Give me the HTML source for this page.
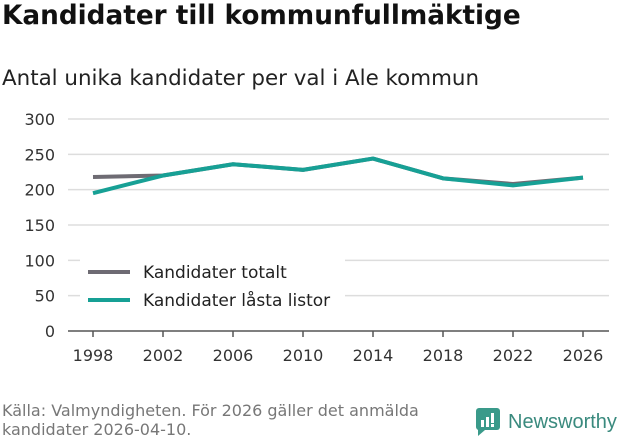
<!DOCTYPE html>
<html><head><meta charset="utf-8"><style>
body{margin:0;width:631px;height:439px;background:#fff;font-family:"DejaVu Sans","Liberation Sans",sans-serif;overflow:hidden;position:relative}
.t{position:absolute;color:#111;white-space:nowrap}
</style></head><body>
<div class="t" style="left:2px;top:1px;font-size:26.3px;font-weight:bold">Kandidater till kommunfullmäktige</div>
<div class="t" style="left:2px;top:66px;font-size:21.4px;color:#222">Antal unika kandidater per val i Ale kommun</div>
<svg id="c" width="631" height="439" style="position:absolute;left:0;top:0"></svg>
<div class="t" style="left:2px;top:401px;font-size:16px;color:#777;line-height:19px">Källa: Valmyndigheten. För 2026 gäller det anmälda<br>kandidater 2026-04-10.</div>
<div style="position:absolute;left:476px;top:408px;display:flex;align-items:center">
<svg width="24" height="28"><rect x="0" y="0" width="24" height="22" rx="3" fill="#3a9a8a"/><path d="M2 20 L2 28 L9 22Z" fill="#3a9a8a"/><rect x="5" y="12" width="3" height="7" fill="#fff"/><rect x="10" y="9" width="3" height="10" fill="#fff"/><rect x="15" y="5" width="3" height="10" fill="#fff"/><rect x="15" y="16" width="3" height="3" fill="#fff"/></svg>
<span style="font-size:20px;color:#3a8a7e;margin-left:8px;font-family:'Liberation Sans',sans-serif">Newsworthy</span></div>
<script>
const years=[1998,2002,2006,2010,2014,2018,2022,2026];
const totalt=[218,220,236,228,244,216,208,217];
const lasta=[195,220,236,228,244,216,206,217];
const yTicks=[0,50,100,150,200,250,300];
const svg=document.getElementById('c');
const NS='http://www.w3.org/2000/svg';
const X=y=>93+(y-1998)*(583-93)/28;
const Y=v=>331-v*(331-119)/300;
function mk(t,a){const e=document.createElementNS(NS,t);for(const k in a)e.setAttribute(k,a[k]);svg.appendChild(e);return e;}
yTicks.forEach(v=>{
 const l=mk('line',{x1:68,x2:609,y1:Y(v),y2:Y(v),stroke:v===0?'#555':'#ddd','stroke-width':1.5});
 
 
 const t=mk('text',{x:55,y:Y(v)+6,'text-anchor':'end','font-size':16,fill:'#333','font-family':'DejaVu Sans, sans-serif'});t.textContent=v;
 
 
});
years.forEach(y=>{
 const k=mk('line',{x1:X(y),x2:X(y),y1:331,y2:337,stroke:'#555','stroke-width':1.5});
 
 
 const t=mk('text',{x:X(y),y:361,'text-anchor':'middle','font-size':16,fill:'#333','font-family':'DejaVu Sans, sans-serif'});t.textContent=y;
 
 
});
function line(d,c,n){const p=mk('polyline',{points:d.map((v,i)=>X(years[i])+','+Y(v)).join(' '),fill:'none',stroke:c,'stroke-width':4,'stroke-linejoin':'round'});
 
 }
line(totalt,'#6e6b73','line-kandidater-totalt');
line(lasta,'#17a095','line-kandidater-lasta-listor');
const bg=mk('rect',{x:80,y:258,width:265,height:58,fill:'#fff'});


[['Kandidater totalt','#6e6b73',272],['Kandidater låsta listor','#17a095',300]].forEach(([s,c,y])=>{
 const l=mk('line',{x1:88,x2:130,y1:y,y2:y,stroke:c,'stroke-width':4});
 
 
 const t=mk('text',{x:143,y:y+6,'font-size':17,fill:'#222','font-family':'DejaVu Sans, sans-serif'});t.textContent=s;
 
 
});
</script>
</body></html>
